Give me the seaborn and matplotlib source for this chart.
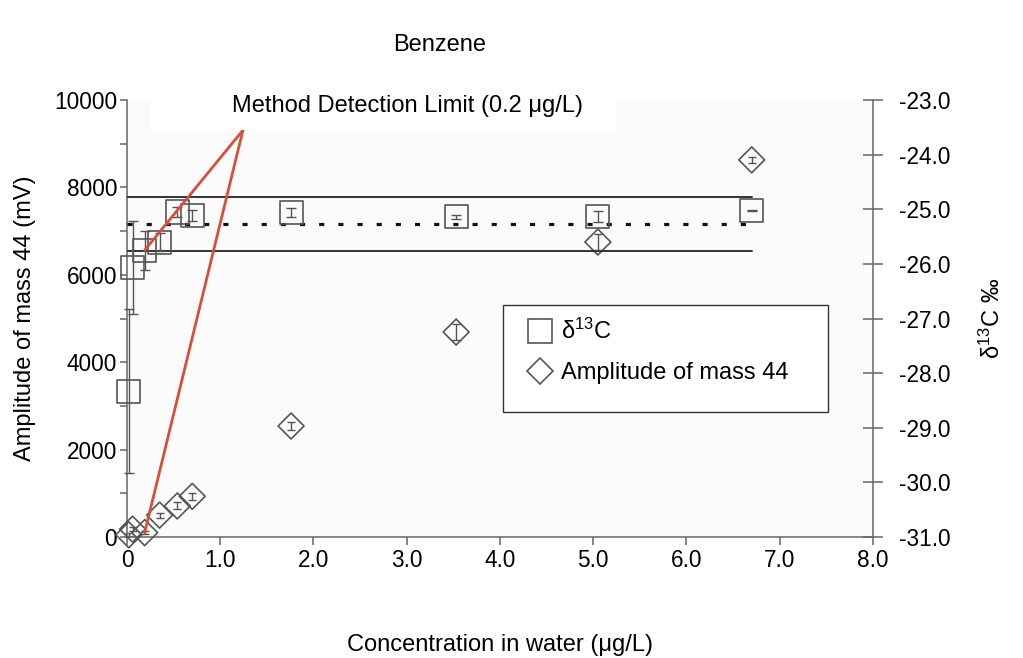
import numpy as np
import pandas as pd
import seaborn as sns
import matplotlib.pyplot as plt
from matplotlib.lines import Line2D
from matplotlib.patches import Rectangle
from matplotlib.ticker import MultipleLocator, FixedLocator, FixedFormatter

# concentrations of benzene in water (ug/L)
conc = [0.02, 0.06, 0.19, 0.35, 0.54, 0.70, 1.76, 3.53, 5.05, 6.70]
# delta 13C (permil) with error
d13c = [-28.33, -26.06, -25.75, -25.60, -25.05, -25.11, -25.06, -25.14, -25.14, -25.03]
d13c_err = [1.5, 0.85, 0.36, 0.16, 0.10, 0.10, 0.08, 0.03, 0.10, 0.01]
# amplitude of mass 44 (mV) with error
amp = [50, 180, 100, 500, 710, 930, 2540, 4690, 6750, 8630]
amp_err = [30, 40, 40, 60, 80, 80, 100, 190, 180, 70]

# mean and +/- 0.5 permil band
band_x = [0.0, 6.70]
d13c_mean = -25.27
d13c_band = 0.5

xticks = [0, 1, 2, 3, 4, 5, 6, 7, 8]
xtick_labels = ['0', '1.0', '2.0', '3.0', '4.0', '5.0', '6.0', '7.0', '8.0']
yticks_left = [0, 2000, 4000, 6000, 8000, 10000]
yticks_right = [-31, -30, -29, -28, -27, -26, -25, -24, -23]
ytick_right_labels = ['-31.0', '-30.0', '-29.0', '-28.0', '-27.0', '-26.0', '-25.0', '-24.0', '-23.0']

df = pd.DataFrame({'conc': conc, 'd13c': d13c, 'amp': amp})

sns.set_theme(style='ticks')
plt.rcParams['font.family'] = ['Liberation Sans', 'DejaVu Sans']
plt.rcParams['mathtext.fontset'] = 'custom'
plt.rcParams['mathtext.rm'] = 'Liberation Sans'
plt.rcParams['mathtext.it'] = 'Liberation Sans:italic'
plt.rcParams['font.size'] = 17
plt.rcParams['text.color'] = 'black'
plt.rcParams['axes.labelcolor'] = 'black'

grey = '#555555'
spine_c = '#666666'

fig = plt.figure(figsize=(10.23, 6.58), dpi=100)
ax = fig.add_axes([0.1241, 0.1839, 0.7292, 0.6641])
ax.set_facecolor('#fbfbfb')
ax2 = ax.twinx()

# amplitude (diamonds, left axis)
ax.errorbar(conc, amp, yerr=amp_err, fmt='none', ecolor=grey, elinewidth=1,
            capsize=3, capthick=1, clip_on=False, zorder=2)
sns.scatterplot(data=df, x='conc', y='amp', ax=ax, marker='D', s=174,
                fc='none', ec=grey, linewidth=1.2, clip_on=False, zorder=3,
                legend=False)

# delta 13C (squares, right axis)
ax2.plot(band_x, [d13c_mean] * 2, color='#111111', lw=2.3, ls=(0, (1.6, 4.4)))
ax2.plot(band_x, [d13c_mean + d13c_band] * 2, color='#333333', lw=1.4)
ax2.plot(band_x, [d13c_mean - d13c_band] * 2, color='#333333', lw=1.4)
ax2.errorbar(conc, d13c, yerr=d13c_err, fmt='none', ecolor=grey, elinewidth=1,
             capsize=3.5, capthick=1, clip_on=False, zorder=2)
sns.scatterplot(data=df, x='conc', y='d13c', ax=ax2, marker='s', s=275,
                fc='none', ec=grey, linewidth=1.2, clip_on=False, zorder=3,
                legend=False)

# method detection limit pointer lines
mdl = 2
red = '#d4503a'
ax2.annotate('', xy=(conc[mdl], d13c[mdl]), xytext=(1.244, 9310),
             textcoords=ax.transData,
             arrowprops=dict(arrowstyle='-', color=red, lw=2, shrinkA=0, shrinkB=0))
ax2.annotate('', xy=(conc[mdl], amp[mdl]), xycoords=ax.transData,
             xytext=(1.244, 9310), textcoords=ax.transData,
             arrowprops=dict(arrowstyle='-', color=red, lw=2, shrinkA=0, shrinkB=0))

# axes limits / ticks
ax.set_xlim(0, 8)
ax.set_ylim(0, 10000)
ax2.set_ylim(-31, -23)
ax.xaxis.set_major_locator(FixedLocator(xticks))
ax.xaxis.set_major_formatter(FixedFormatter(xtick_labels))
ax.yaxis.set_major_locator(FixedLocator(yticks_left))
ax.yaxis.set_minor_locator(MultipleLocator(1000))
ax2.yaxis.set_major_locator(FixedLocator(yticks_right))
ax2.yaxis.set_major_formatter(FixedFormatter(ytick_right_labels))

for a in (ax, ax2):
    a.spines['top'].set_visible(False)
    for s in a.spines.values():
        s.set_color(spine_c)
        s.set_linewidth(1.1)
ax.spines['right'].set_visible(False)
ax2.spines['left'].set_visible(False)
ax2.spines['bottom'].set_visible(False)

ax.tick_params(axis='x', direction='out', length=6, width=1.1, color=spine_c,
               pad=3, labelsize=16.3, labelcolor='black')
ax.tick_params(axis='y', which='both', direction='out', length=5, width=1.1,
               color=spine_c, pad=2, labelsize=16.3, labelcolor='black')
ax2.tick_params(axis='y', direction='inout', length=15, width=1.1, color=spine_c,
                pad=11, labelsize=16.3, labelcolor='black')

ax.set_xlabel('Concentration in water (μg/L)', fontsize=17, labelpad=44)
ax.set_ylabel('Amplitude of mass 44 (mV)', fontsize=17, labelpad=13)
ax2.set_ylabel('δ$^{13}$C ‰', fontsize=17, labelpad=21)

# legend with a plain rectangular frame
ax2.add_patch(Rectangle((0.504, 0.286), 0.436, 0.245, transform=ax2.transAxes,
                        facecolor='white', edgecolor='#333333', lw=1, zorder=4))
handles = [
    Line2D([], [], marker='s', ms=16.6, mfc='none', mec=grey, mew=1.2, ls='none'),
    Line2D([], [], marker='D', ms=13.2, mfc='none', mec=grey, mew=1.2, ls='none'),
]
leg = ax2.legend(handles, ['δ$^{13}$C', 'Amplitude of mass 44'], loc='upper left',
                 bbox_to_anchor=(0.5383, 0.4990), frameon=False, borderpad=0,
                 borderaxespad=0, handlelength=1.0, handletextpad=0.36,
                 labelspacing=0.75, fontsize=17)
leg.set_zorder(5)

# title block
fig.patches.append(Rectangle((0.1466, 0.8024), 0.4545, 0.1976, transform=fig.transFigure,
                             facecolor='white', edgecolor='none', zorder=1))
fig.text(0.430, 0.9316, 'Benzene', ha='center', va='center', fontsize=17)
fig.text(0.398, 0.839, 'Method Detection Limit (0.2 μg/L)', ha='center', va='center',
         fontsize=17)

fig.savefig('out.png', dpi=100)
